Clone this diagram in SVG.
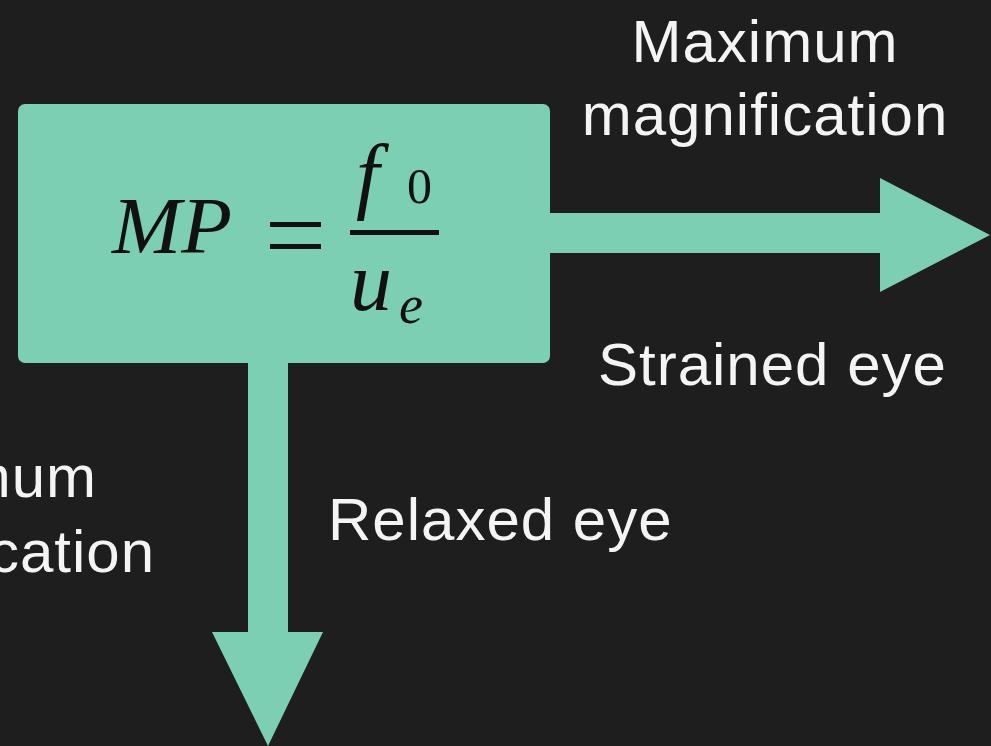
<svg xmlns="http://www.w3.org/2000/svg" width="991" height="746" viewBox="0 0 991 746">
<style>
.lbl{font-family:"Liberation Sans","DejaVu Sans",sans-serif;font-size:60px;fill:#f4f4f4;letter-spacing:1px}
.math{font-family:"Liberation Serif","DejaVu Serif",serif;font-style:italic;fill:#111}
.mint{fill:#7dcfb3}
</style>
<rect width="991" height="746" fill="#1f1e1e"/>
<g id="connectors">
<polygon class="mint" points="550,213 880,213 880,178 990,235 880,292 880,253 550,253"/>
<polygon class="mint" points="248,362 288,362 288,632 323,632 268,746 212,632 248,632"/>
</g>
<g id="formula-box">
<rect class="mint" x="18" y="104" width="532" height="259" rx="7"/>
<text class="math" x="112" y="253" font-size="80" textLength="120" lengthAdjust="spacingAndGlyphs">MP</text>
<rect x="270" y="222" width="51" height="5" fill="#111"/>
<rect x="270" y="244" width="51" height="5" fill="#111"/>
<text class="math" x="356" y="203" font-size="84">f</text>
<text x="407" y="203" font-family="Liberation Serif,serif" font-size="50" fill="#111">0</text>
<rect x="350" y="230" width="89" height="5" fill="#111"/>
<text class="math" x="350" y="310" font-size="84">u</text>
<text class="math" x="399" y="323" font-size="54">e</text>
</g>
<g id="labels">
<text class="lbl" x="765" y="62" text-anchor="middle">Maximum</text>
<text class="lbl" x="765" y="135" text-anchor="middle">magnification</text>
<text class="lbl" x="598" y="385">Strained eye</text>
<text class="lbl" x="328" y="540">Relaxed eye</text>
<text class="lbl" x="97" y="497" text-anchor="end">Minimum</text>
<text class="lbl" x="155" y="572" text-anchor="end">magnification</text>
</g>
</svg>
